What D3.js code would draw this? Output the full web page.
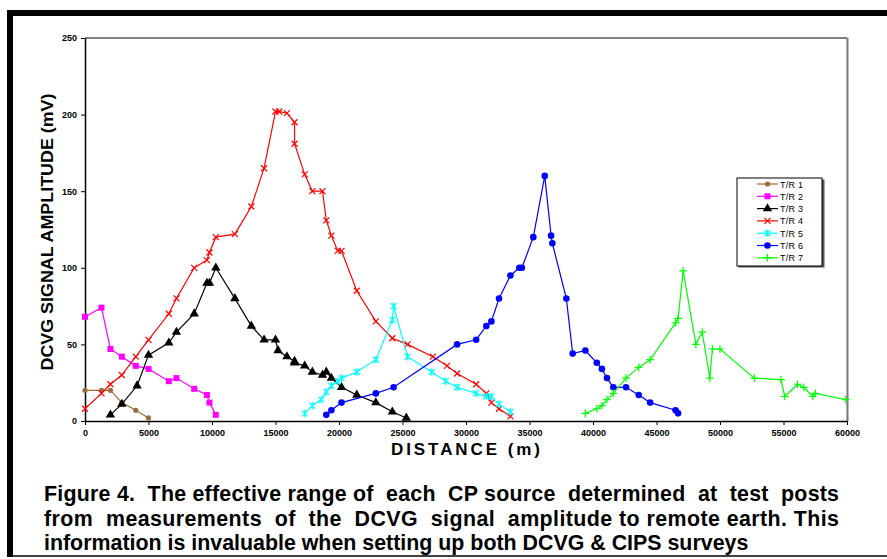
<!DOCTYPE html>
<html>
<head>
<meta charset="utf-8">
<script src="https://cdn.jsdelivr.net/npm/d3@7"></script>
<style>
  body { margin: 0; background: #fff; }
  svg { display: block; font-family: "Liberation Sans", Arial, sans-serif; }
</style>
</head>
<body>
<div id="root"></div>
<script>
// distance (m), amplitude (mV)
const tr1 = [[0, 20], [1300, 20], [2000, 20], [2900, 12], [4000, 7], [5000, 2]];
const tr2 = [[0, 68], [1300, 74], [2000, 47], [2900, 42], [4000, 36], [5000, 34], [6600, 26],
  [7200, 28], [8600, 21], [9600, 17], [9800, 12], [10300, 4]];
const tr3 = [[2000, 4], [2900, 11], [4100, 23], [5000, 43], [6600, 51], [7200, 58], [8600, 70],
  [9600, 90], [9800, 90], [10300, 100], [11800, 80], [13100, 62], [14100, 53], [15000, 53],
  [15200, 46], [15900, 42], [16500, 39], [16500, 38], [17300, 36], [17900, 32], [18700, 30],
  [19000, 32], [19400, 28], [20200, 22], [21400, 17], [22900, 12], [24200, 6], [25300, 2]];
const tr4 = [[0, 8], [1300, 18], [2000, 24], [2900, 30], [4000, 42], [5000, 53], [6600, 70],
  [7200, 80], [8600, 100], [9600, 105], [9800, 110], [10300, 120], [11800, 122], [13100, 140],
  [14100, 165], [15000, 202], [15300, 202], [15900, 201], [16500, 195], [16500, 181],
  [17300, 161], [17900, 150], [18700, 150], [19000, 131], [19400, 121], [19900, 111],
  [20200, 111], [21400, 85], [22900, 65], [24200, 54], [25400, 50], [27400, 42], [28500, 36],
  [29300, 31], [30800, 24], [31600, 18], [32000, 12], [32600, 8], [33500, 3]];
const tr5 = [[17300, 5], [17900, 10], [18600, 14], [19000, 19], [19400, 23], [19900, 26],
  [20200, 28], [21400, 32], [22900, 40], [24200, 66], [24300, 75], [25400, 42], [27300, 32],
  [28400, 26], [29300, 22], [30800, 18], [31600, 16], [32000, 16], [32600, 11], [33500, 6]];
const tr6 = [[19000, 4], [19400, 7], [20200, 12], [22900, 18], [24300, 22], [29300, 50],
  [30800, 53], [31600, 62], [32000, 65], [32600, 80], [33500, 95], [34200, 100], [34400, 100],
  [35300, 120], [36200, 160], [36700, 121], [36800, 116], [37900, 80], [38400, 44], [39400, 46],
  [40300, 38], [40700, 34], [41100, 28], [41600, 22], [42600, 22], [43600, 17], [44500, 12],
  [46500, 7], [46700, 5]];
const tr7 = [[39400, 5], [40300, 8], [40700, 10], [41100, 14], [41600, 18], [42600, 28],
  [43600, 35], [44500, 40], [46500, 64], [46700, 67], [47100, 98], [48100, 50], [48600, 58],
  [49200, 28], [49400, 47], [50000, 47], [52700, 28], [54800, 27], [55100, 16], [56100, 24],
  [56600, 22], [57300, 16], [57500, 18], [59900, 14]];

const seriesNames = ["T/R 1", "T/R 2", "T/R 3", "T/R 4", "T/R 5", "T/R 6", "T/R 7"];
const seriesData = [tr1, tr2, tr3, tr4, tr5, tr6, tr7];
const seriesColors = ["#9c6b3c", "#ff00ff", "#000000", "#ff0000", "#00ffff", "#0000ff", "#00ff00"];
const seriesShapes = ["diamond", "square", "triangle", "x", "star", "circle", "plus"];

const xTicks = d3.range(0, 60001, 5000);
const yTicks = d3.range(0, 251, 50);

const captionLines = [
  "Figure 4.  The effective range of  each  CP source  determined  at  test  posts",
  "from  measurements  of  the  DCVG  signal  amplitude to remote earth. This",
  "information is invaluable when setting up both DCVG & CIPS surveys"
];

const width = 887;
const height = 559;
const plot = { left: 85, right: 847, top: 38, bottom: 421 };

const svg = d3.select("#root")
  .append("svg")
  .attr("width", width)
  .attr("height", height);

// outer frame
svg.append("rect").attr("x", 7).attr("y", 10).attr("width", 6).attr("height", 547).attr("fill", "#000");
svg.append("rect").attr("x", 7).attr("y", 10).attr("width", 880).attr("height", 6).attr("fill", "#000");
svg.append("line").attr("x1", 7).attr("x2", 887).attr("y1", 556).attr("y2", 556)
  .attr("stroke", "#000").attr("stroke-width", 1.5);

const x = d3.scaleLinear().domain([0, 60000]).range([plot.left, plot.right]);
const y = d3.scaleLinear().domain([0, 250]).range([plot.bottom, plot.top]);

// plot box
svg.append("line").attr("x1", plot.left).attr("x2", plot.right).attr("y1", plot.top).attr("y2", plot.top)
  .attr("stroke", "#000");
svg.append("line").attr("x1", plot.right + 0.5).attr("x2", plot.right + 0.5).attr("y1", plot.top).attr("y2", plot.bottom)
  .attr("stroke", "#777").attr("stroke-width", 2);

const xAxis = svg.append("g")
  .attr("transform", `translate(0,${plot.bottom})`)
  .call(d3.axisBottom(x).tickValues(xTicks).tickSize(4).tickPadding(5).tickSizeOuter(0).tickFormat(d3.format("d")));
const yAxis = svg.append("g")
  .attr("transform", `translate(${plot.left},0)`)
  .call(d3.axisLeft(y).tickValues(yTicks).tickSize(4).tickPadding(4).tickSizeOuter(0));

[xAxis, yAxis].forEach((g) => {
  g.select(".domain").attr("stroke-width", 1.5);
  g.selectAll("text")
    .attr("font-family", "Liberation Sans, Arial, sans-serif")
    .attr("font-size", 9)
    .attr("font-weight", "bold")
    .attr("fill", "#000");
});

// axis titles
svg.append("text")
  .attr("transform", `translate(53,232) rotate(-90)`)
  .attr("text-anchor", "middle")
  .attr("font-size", 17)
  .attr("font-weight", "bold")
  .attr("textLength", 277)
  .attr("lengthAdjust", "spacingAndGlyphs")
  .text("DCVG SIGNAL AMPLITUDE (mV)");

svg.append("text")
  .attr("x", 391)
  .attr("y", 455)
  .attr("font-size", 17)
  .attr("font-weight", "bold")
  .attr("textLength", 149)
  .attr("lengthAdjust", "spacing")
  .text("DISTANCE (m)");

function marker(sel, shape, color) {
  if (shape === "square") {
    sel.append("path").attr("d", d3.symbol(d3.symbolSquare, 36)()).attr("fill", color);
  } else if (shape === "triangle") {
    sel.append("path").attr("d", d3.symbol(d3.symbolTriangle, 38)()).attr("fill", color);
  } else if (shape === "circle") {
    sel.append("circle").attr("r", 3.3).attr("fill", color);
  } else if (shape === "diamond") {
    sel.append("circle").attr("r", 2.6).attr("fill", color);
  } else {
    const paths = {
      x: "M-3,-3L3,3M-3,3L3,-3",
      star: "M-3,-3L3,3M-3,3L3,-3M0,-3.8L0,3.8",
      plus: "M-3.8,0L3.8,0M0,-3.8L0,3.8"
    };
    sel.append("path").attr("d", paths[shape]).attr("fill", "none")
      .attr("stroke", color).attr("stroke-width", 1.2);
  }
}

const line = d3.line().x((d) => x(d[0])).y((d) => y(d[1]));

seriesData.forEach((data, i) => {
  const g = svg.append("g");
  g.append("path")
    .datum(data)
    .attr("d", line)
    .attr("fill", "none")
    .attr("stroke", seriesColors[i])
    .attr("stroke-width", 1.2);
  g.selectAll(".pt")
    .data(data)
    .enter()
    .append("g")
    .attr("class", "pt")
    .attr("transform", (d) => `translate(${x(d[0])},${y(d[1])})`)
    .each(function () { marker(d3.select(this), seriesShapes[i], seriesColors[i]); });
});

// legend
const legend = svg.append("g").attr("transform", "translate(737,178)");
legend.append("rect").attr("x", 1.5).attr("y", 1.5).attr("width", 86).attr("height", 88).attr("fill", "#555");
legend.append("rect").attr("width", 85).attr("height", 88).attr("fill", "#fff").attr("stroke", "#000");
seriesNames.forEach((name, i) => {
  const row = legend.append("g").attr("transform", `translate(0,${6 + i * 12.3})`);
  row.append("line").attr("x1", 20).attr("x2", 41).attr("stroke", seriesColors[i]).attr("stroke-width", 1.2);
  marker(row.append("g").attr("transform", "translate(30.5,0)"), seriesShapes[i], seriesColors[i]);
  row.append("text").attr("x", 43).attr("y", 3.5).attr("font-size", 9)
    .attr("textLength", 23).attr("lengthAdjust", "spacing").text(name);
});

// caption: size font so the last line fills its width, then justify the others
const cap = svg.append("g").attr("font-weight", "bold");
const probe = cap.append("text").attr("font-size", 20).text(captionLines[2]);
const capSize = 20 * 705 / probe.node().getComputedTextLength();
probe.remove();
captionLines.forEach((t, i) => {
  const txt = cap.append("text")
    .attr("x", 44)
    .attr("y", 501 + i * 24.7)
    .attr("font-size", capSize)
    .style("white-space", "pre")
    .text(t);
  if (i < 2) {
    const w = txt.node().getComputedTextLength();
    if (w < 795) txt.attr("textLength", 795).attr("lengthAdjust", "spacing");
    else txt.attr("textLength", 795).attr("lengthAdjust", "spacingAndGlyphs");
  }
});
</script>
</body>
</html>
